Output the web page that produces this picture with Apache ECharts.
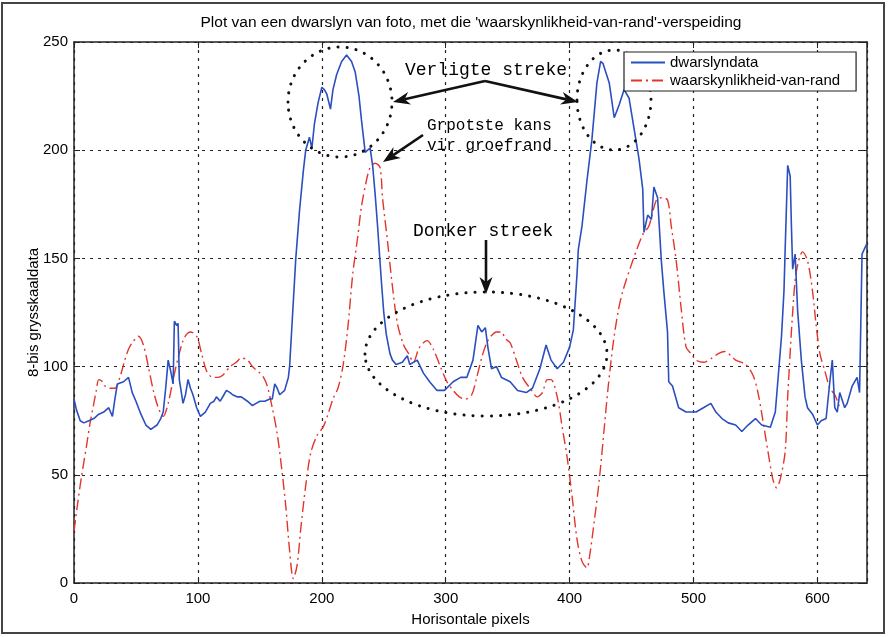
<!DOCTYPE html>
<html>
<head>
<meta charset="utf-8">
<title>dwarslyn</title>
<script src="https://cdn.jsdelivr.net/npm/echarts@6/dist/echarts.min.js"></script>
<style>
    html, body { margin: 0; padding: 0; background: #fff; }
    #chart { width: 888px; height: 637px; }
</style>
</head>
<body>
<div id="chart"></div>
<script>
// 数据: dwarslyndata (blou)
var blueX = [0,2,5,8,12,16,20,24,28,31,33,35,40,44,47,50,54,58,62,67,70,72,74,76,78,80,81,83,84,85,88,90,92,94,96,99,102,106,110,113,115,118,121,123,126,128,132,135,140,144,147,150,154,158,160,162,164,166,170,173,174,176,179,182,185,187,190,192,194,197,200,202,204,207,209,212,216,220,224,227,230,232,235,237,239,241,243,245,248,250,252,255,257,260,265,269,271,277,282,287,293,299,306,312,317,322,326,329,332,334,337,341,345,352,358,365,370,376,381,385,390,395,400,403,406,407,410,414,418,422,425,427,432,436,440,444,448,452,456,459,460,463,466,468,471,474,476,479,480,483,488,494,502,508,514,518,523,528,534,539,544,550,555,562,566,568,571,573,574,576,578,579,580,582,584,587,590,592,596,600,603,607,610,612,614,616,618,622,624,628,632,634,636,640];
var blueY = [85,80,75,74,75,76,78,79,81,77,85,92,93,95,88,84,78,73,71,73,76,79,90,103,98,92,121,119,120,94,83,87,94,90,87,81,77,79,83,84,86,84,87,89,88,87,86,86,84,82,83,84,84,85,85,92,90,87,89,95,100,120,150,172,190,200,206,201,212,222,229,228,226,219,228,235,241,244,241,236,225,214,199,200,201,193,180,165,140,125,115,106,103,101,102,105,101,103,97,93,89,89,93,95,95,103,119,116,118,109,99,100,95,93,89,88,90,99,110,103,99,102,109,117,143,154,165,186,205,231,241,240,231,215,221,228,224,210,196,182,162,170,168,183,178,149,135,116,93,91,81,79,79,81,83,79,76,74,73,70,73,76,73,72,79,93,114,135,155,193,188,165,145,152,126,103,86,81,78,73,75,76,93,103,81,79,88,81,83,91,95,88,152,157];

// 数据: waarskynlikheid-van-rand (rooi)
var redX = [0,3,6,10,13,16,18,20,23,25,29,33,37,41,44,47,52,56,60,64,68,72,76,80,84,88,91,94,99,103,107,112,116,120,126,131,135,140,144,150,153,156,160,164,168,171,174,177,180,183,187,191,196,201,205,209,213,217,221,225,229,232,236,239,243,247,249,253,257,261,266,270,274,278,282,285,290,295,301,306,311,316,321,325,330,334,338,341,345,348,352,357,362,368,374,378,382,385,390,394,398,402,406,410,414,416,420,424,428,431,435,439,443,451,459,464,470,474,479,482,486,490,494,498,502,508,515,520,525,534,542,548,552,556,560,564,567,570,574,576,580,583,588,592,596,599,602,606,610,614,618];
var redY = [24,37,49,63,74,83,89,94,93,91,90,90,95,103,108,111,114,110,100,89,81,77,83,94,104,112,115,116,114,106,98,95,95,96,100,102,104,103,100,97,95,91,81,69,51,35,15,2,8,25,45,60,68,72,78,85,90,100,118,143,160,174,186,192,194,192,178,158,137,120,110,106,102,108,111,112,108,101,93,89,86,85,87,95,106,112,115,116,116,113,111,103,95,90,86,88,94,94,86,72,58,40,20,10,7,12,29,48,72,90,110,125,135,149,161,165,177,178,177,165,149,127,109,106,103,102,104,106,107,103,101,96,88,75,61,48,44,48,61,86,125,144,153,149,135,119,106,98,90,87,81];

var seriesNames = ['dwarslyndata', 'waarskynlikheid-van-rand'];

// 组合成 [x, y]
function pairs(xs, ys) {
    var out = [];
    for (let i = 0; i < xs.length; i++) {
        out.push([xs[i], ys[i]]);
    }
    return out;
}

var axisFont = '"Liberation Sans", Arial, sans-serif';
var monoFont = '"Liberation Mono", "Courier New", monospace';

/**
 * [pyl met kop]
 */
function arrow(x1, y1, x2, y2) {
    let ang = Math.atan2(y2 - y1, x2 - x1);
    let len = 17, half = 6.5;
    let c = Math.cos(ang), s = Math.sin(ang);
    let bx = x2 - len * c, by = y2 - len * s;
    let nx = x2 - len * 0.7 * c, ny = y2 - len * 0.7 * s;
    return [
        {type: 'line', z: 110, shape: {x1: x1, y1: y1, x2: nx, y2: ny},
            style: {stroke: '#111', lineWidth: 2.6}},
        {type: 'polygon', z: 110,
            shape: {points: [[x2, y2], [bx - s * half, by + c * half], [nx, ny], [bx + s * half, by - c * half]]},
            style: {fill: '#111'}}
    ];
}

var dotStyle = {stroke: '#111', fill: null, lineWidth: 3, lineDash: [0.1, 9], lineCap: 'round'};

function label(text, x, y, size) {
    return {type: 'text', z: 110, x: x, y: y,
        style: {text: text, font: size + 'px ' + monoFont, fill: '#000', textVerticalAlign: 'middle'}};
}

var graphics = [
    // raam om die figuur
    {type: 'rect', z: 0, shape: {x: 2, y: 3, width: 882, height: 630}, style: {fill: null, stroke: '#444', lineWidth: 2}},
    // titel
    {type: 'text', z: 110, x: 471, y: 23,
        style: {text: "Plot van een dwarslyn van foto, met die 'waarskynlikheid-van-rand'-verspeiding",
            font: '15.5px ' + axisFont, fill: '#000', textAlign: 'center', textVerticalAlign: 'middle'}},
    // ellipse
    {type: 'ellipse', z: 105, shape: {cx: 340, cy: 102, rx: 52, ry: 55}, style: dotStyle},
    {type: 'ellipse', z: 105, shape: {cx: 614, cy: 100, rx: 37, ry: 50}, style: dotStyle},
    {type: 'ellipse', z: 105, shape: {cx: 486, cy: 354, rx: 121, ry: 62}, style: dotStyle},
    label('Verligte streke', 405, 70, 18),
    label('Grpotste kans', 427, 126, 16),
    label('vir groefrand', 427, 146, 16),
    label('Donker streek', 413, 231, 18)
];
graphics = graphics
    .concat(arrow(485, 81, 393, 102))
    .concat(arrow(485, 81, 578, 102))
    .concat(arrow(423, 135, 383, 162))
    .concat(arrow(486, 240, 486, 294));

var myChart = echarts.init(document.getElementById('chart'));

var gridLine = {show: true, lineStyle: {color: '#222', width: 1.2, type: [3, 5]}};

var option = {
    animation: false,
    backgroundColor: '#fff',
    grid: {left: 74, top: 42, width: 793, height: 541, containLabel: false},
    legend: {
        data: seriesNames,
        orient: 'vertical',
        left: 624, top: 52,
        itemWidth: 34, itemHeight: 12, itemGap: 3,
        padding: [3, 16, 3, 6],
        backgroundColor: '#fff',
        borderColor: '#222', borderWidth: 1.2,
        itemStyle: {opacity: 0},
        textStyle: {fontFamily: axisFont, fontSize: 15, color: '#000'},
        z: 120
    },
    xAxis: [{
        type: 'value', min: 0, max: 640, interval: 100, position: 'bottom',
        name: 'Horisontale pixels', nameLocation: 'middle', nameGap: 29,
        nameTextStyle: {fontFamily: axisFont, fontSize: 15, color: '#000'},
        axisLine: {show: true, onZero: false, lineStyle: {color: '#222', width: 1.5}},
        axisTick: {show: true, inside: true, length: 6, lineStyle: {color: '#222'}},
        axisLabel: {fontFamily: axisFont, fontSize: 15, color: '#000', margin: 8, showMaxLabel: false},
        splitLine: gridLine
    }, {
        type: 'value', min: 0, max: 640, interval: 100, position: 'top',
        axisLine: {show: true, onZero: false, lineStyle: {color: '#222', width: 1.5}},
        axisTick: {show: true, inside: true, length: 6, lineStyle: {color: '#222'}},
        axisLabel: {show: false},
        splitLine: {show: false}
    }],
    yAxis: [{
        type: 'value', min: 0, max: 250, interval: 50, position: 'left',
        name: '8-bis grysskaaldata', nameLocation: 'middle', nameGap: 33, nameRotate: 90,
        nameMoveOverlap: false,
        nameTextStyle: {fontFamily: axisFont, fontSize: 15, color: '#000'},
        axisLine: {show: true, onZero: false, lineStyle: {color: '#222', width: 1.5}},
        axisTick: {show: true, inside: true, length: 6, lineStyle: {color: '#222'}},
        axisLabel: {fontFamily: axisFont, fontSize: 15, color: '#000', margin: 6},
        splitLine: gridLine
    }, {
        type: 'value', min: 0, max: 250, interval: 50, position: 'right',
        axisLine: {show: true, onZero: false, lineStyle: {color: '#222', width: 1.5}},
        axisTick: {show: true, inside: true, length: 6, lineStyle: {color: '#222'}},
        axisLabel: {show: false},
        splitLine: {show: false}
    }],
    series: [{
        name: seriesNames[0],
        type: 'line',
        data: pairs(blueX, blueY),
        showSymbol: false, symbol: 'none',
        lineStyle: {color: '#2b4fc0', width: 1.6},
        itemStyle: {color: '#2b4fc0'},
        z: 3
    }, {
        name: seriesNames[1],
        type: 'line',
        data: pairs(redX, redY),
        smooth: 0.3,
        showSymbol: false, symbol: 'none',
        lineStyle: {color: '#e2352c', width: 1.4, type: [11, 4, 2, 4]},
        itemStyle: {color: '#e2352c'},
        z: 2
    }],
    graphic: graphics
};

myChart.setOption(option);
</script>
</body>
</html>
